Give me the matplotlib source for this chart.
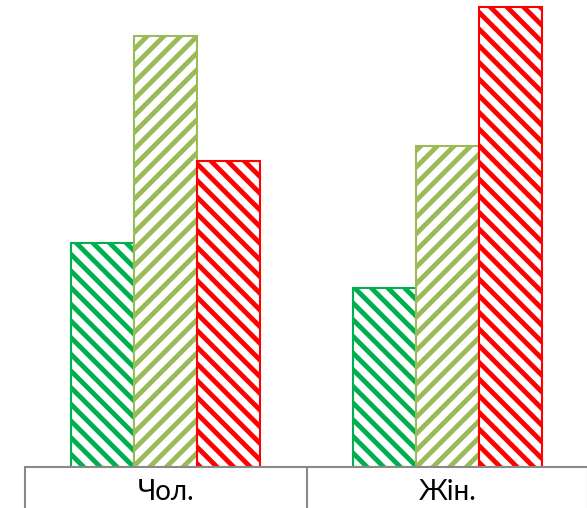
import matplotlib
matplotlib.use("Agg")
import matplotlib.pyplot as plt

categories = ["Чол.", "Жін."]
series_green = [22.4, 17.9]
series_olive = [43.1, 32.1]
series_red = [30.6, 46.0]

colors = ["#00B050", "#9BBB59", "#FF0000"]
hatches = ["\\\\", "//", "\\\\"]

plt.rcParams["hatch.linewidth"] = 3.5

dpi = 100
fig = plt.figure(figsize=(587 / dpi, 508 / dpi), dpi=dpi)
W, H = 587, 508
ax = fig.add_axes([25 / W, 41 / H, 563.4 / W, 467 / H])

x = list(range(len(categories)))
bw = 0.2236
offsets = [-bw, 0, bw]
for vals, off, c, h in zip([series_green, series_olive, series_red], offsets, colors, hatches):
    ax.bar([xi + off for xi in x], vals, width=bw, facecolor="white",
           edgecolor=c, hatch=h, linewidth=1.5, zorder=2)

ax.set_xlim(-0.5, len(categories) - 0.5)
ax.set_ylim(0, 46.7)
for s in ["top", "right", "left"]:
    ax.spines[s].set_visible(False)
ax.spines["bottom"].set_color("#898989")
ax.spines["bottom"].set_linewidth(1.5)
ax.spines["bottom"].set_zorder(3)
ax.set_yticks([])
ax.set_xticks([])
ax.set_xticks([-0.5, 0.5, 1.5], minor=True)
ax.tick_params(axis="x", which="minor", length=41 * 72 / dpi, width=1.5,
               color="#898989", direction="out")
ax.tick_params(axis="x", which="minor", labelbottom=False)

trans = ax.get_xaxis_transform()
for xi, lab in zip(x, categories):
    ax.text(xi, -24.5 / 467, lab, transform=trans, ha="center", va="center",
            fontsize=20, family=["Lato", "DejaVu Sans"], color="black")

fig.savefig("out.png", dpi=dpi)
